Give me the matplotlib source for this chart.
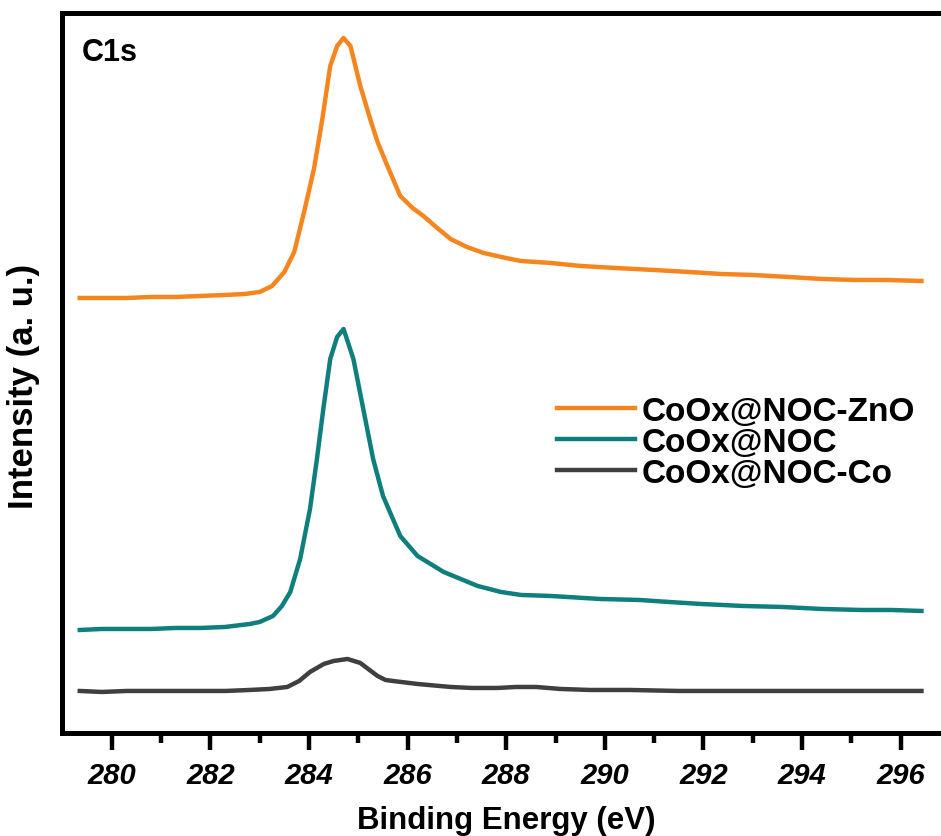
import matplotlib
matplotlib.use('Agg')
import matplotlib.pyplot as plt
import numpy as np

plt.rcParams['font.family'] = ['Liberation Sans', 'DejaVu Sans']
plt.rcParams['font.weight'] = 'bold'

# C1s spectra (binding energy in eV, intensity in arbitrary units)
be_zno = [279.35, 279.8, 280.3, 280.8, 281.3, 281.8, 282.3, 282.7, 283.0, 283.25,
          283.5, 283.7, 283.9, 284.1, 284.27, 284.43, 284.57, 284.7, 284.84, 285.04,
          285.24, 285.39, 285.59, 285.85, 286.1, 286.32, 286.6, 286.87, 287.2, 287.54,
          287.9, 288.29, 288.9, 289.51, 290.2, 291.0, 291.7, 292.36, 293.0, 293.72,
          294.4, 295.06, 295.7, 296.42]
int_zno = [435, 435, 435, 436, 436, 437, 438, 439, 441, 447,
           461, 481, 521, 564, 614, 667, 687, 695, 687, 647,
           614, 591, 567, 537, 525, 517, 505, 494, 486, 480,
           476, 472, 470, 467, 465, 463, 461, 459, 458, 456,
           454, 453, 453, 452]

be_noc = [279.35, 279.8, 280.3, 280.8, 281.3, 281.8, 282.3, 282.8, 283.0, 283.27,
          283.45, 283.62, 283.82, 284.02, 284.16, 284.29, 284.43, 284.57, 284.7, 284.9,
          285.1, 285.3, 285.5, 285.85, 286.2, 286.73, 287.42, 287.89, 288.3, 288.9,
          289.9, 290.7, 291.3, 291.95, 292.8, 293.6, 294.4, 295.2, 295.8, 296.42]
int_noc = [103, 104, 104, 104, 105, 105, 106, 109, 111, 117,
           127, 141, 174, 224, 274, 324, 374, 396, 404, 374,
           324, 274, 237, 197, 177, 161, 147, 141, 138, 137,
           134, 133, 131, 129, 127, 126, 124, 123, 123, 122]

be_co = [279.35, 279.8, 280.3, 280.8, 281.3, 281.8, 282.3, 282.8, 283.2, 283.56,
         283.8, 284.02, 284.3, 284.5, 284.78, 285.04, 285.2, 285.39, 285.55, 285.7,
         286.2, 286.87, 287.3, 287.82, 288.2, 288.6, 289.1, 289.7, 290.5, 291.5,
         292.5, 293.5, 294.5, 295.5, 296.42]
int_co = [42, 41, 42, 42, 42, 42, 42, 43, 44, 46,
          52, 61, 69, 72, 74, 70, 64, 57, 53, 52,
          49, 46, 45, 45, 46, 46, 44, 43, 43, 42,
          42, 42, 42, 42, 42]

labels = ['CoOx@NOC-ZnO', 'CoOx@NOC', 'CoOx@NOC-Co']
colors = ['#F5861F', '#0E7F7D', '#3F3F3F']

fig = plt.figure(figsize=(9.41, 8.37), dpi=100)
ax = fig.add_axes([0.0664, 0.1231, 0.9432, 0.8602])

ax.plot(be_zno, int_zno, color=colors[0], lw=3.2, label=labels[0])
ax.plot(be_noc, int_noc, color=colors[1], lw=3.2, label=labels[1])
ax.plot(be_co, int_co, color=colors[2], lw=3.2, label=labels[2])

ax.set_xlim(279.0, 297.0)
ax.set_ylim(0, 720)
ax.set_xticks(np.arange(280, 297, 2))
ax.set_xticks(np.arange(281, 297, 2), minor=True)
ax.set_yticks([])
ax.tick_params(axis='x', which='major', direction='out', length=12, width=3.2, pad=8)
ax.tick_params(axis='x', which='minor', direction='out', length=7, width=3.2)
for lbl in ax.get_xticklabels():
    lbl.set_fontsize(21)
    lbl.set_fontweight('bold')
    lbl.set_fontstyle('italic')
for sp in ax.spines.values():
    sp.set_linewidth(3.6)
ax.spines['right'].set_visible(False)

ax.set_xlabel('Binding Energy (eV)', fontsize=22.5, fontweight='bold', labelpad=12)
ax.set_ylabel('Intensity (a. u.)', fontsize=25, fontweight='bold')
ax.yaxis.set_label_coords(-0.025, 0.482)

ax.text(0.022, 0.967, 'C1s', transform=ax.transAxes, fontsize=22,
        fontweight='bold', va='top', ha='left')

ax.legend(loc='upper left', bbox_to_anchor=(0.557, 0.468), frameon=False,
          prop={'size': 24, 'weight': 'bold'}, handlelength=2.35,
          handletextpad=0.2, labelspacing=0.0, borderpad=0, borderaxespad=0)

fig.savefig('out.png', dpi=100)
